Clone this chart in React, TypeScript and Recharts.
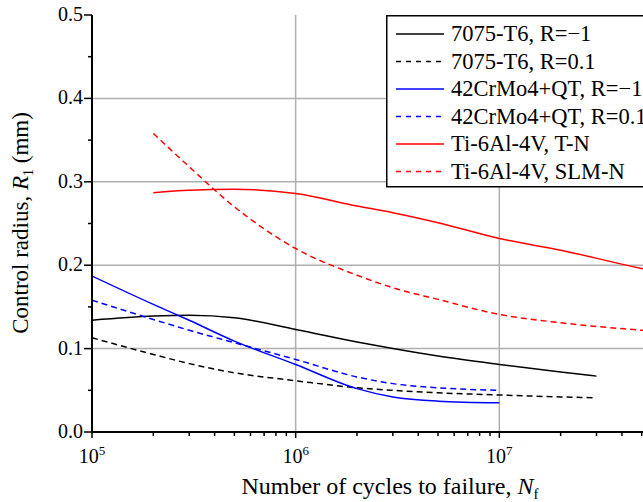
import { Line, LineChart, ReferenceLine, XAxis, YAxis } from 'recharts';

// cycles to failure, one list per material
const n7075 = [1e5, 2e5, 3e5, 5e5, 1e6, 2e6, 3e6, 5e6, 1e7, 2e7, 3e7];
const r7075Rm1 = [0.134, 0.139, 0.14, 0.137, 0.123, 0.108, 0.1, 0.091, 0.081, 0.072, 0.067];
const r7075R01 = [0.113, 0.093, 0.082, 0.071, 0.0615, 0.053, 0.05, 0.047, 0.0444, 0.042, 0.041];

const nCrMo = [1e5, 2e5, 3e5, 5e5, 1e6, 2e6, 3e6, 5e6, 1e7];
const rCrMoRm1 = [0.187, 0.153, 0.134, 0.109, 0.081, 0.052, 0.042, 0.037, 0.035];
const rCrMoR01 = [0.158, 0.135, 0.122, 0.107, 0.087, 0.066, 0.058, 0.053, 0.05];

const nTi = [2e5, 3e5, 5e5, 1e6, 2e6, 3e6, 5e6, 1e7, 2e7, 5e7, 1e8];
const rTiTN = [0.287, 0.29, 0.291, 0.286, 0.271, 0.263, 0.251, 0.232, 0.218, 0.196, 0.182];
const rTiSLM = [0.358, 0.318, 0.27, 0.22, 0.188, 0.173, 0.159, 0.141, 0.131, 0.122, 0.117];

const xMajor = [1e5, 1e6, 1e7, 1e8];
const xLabelled = [1e5, 1e6, 1e7];
const xMinor = [5, 6, 7].flatMap((d) => [2, 3, 4, 5, 6, 7, 8, 9].map((k) => k * 10 ** d));
const yMajor = [0, 0.1, 0.2, 0.3, 0.4, 0.5];
const yMinor = [0.05, 0.15, 0.25, 0.35, 0.45];

const toPoints = (n: number[], r: number[]) => n.map((v, i) => ({ n: v, r: r[i] }));

const series = [
  { name: '7075-T6, R=\u22121', color: '#000000', dash: undefined, data: toPoints(n7075, r7075Rm1) },
  { name: '7075-T6, R=0.1', color: '#000000', dash: '6 4', data: toPoints(n7075, r7075R01) },
  { name: '42CrMo4+QT, R=\u22121', color: '#0000ff', dash: undefined, data: toPoints(nCrMo, rCrMoRm1) },
  { name: '42CrMo4+QT, R=0.1', color: '#0000ff', dash: '6 4', data: toPoints(nCrMo, rCrMoR01) },
  { name: 'Ti-6Al-4V, T-N', color: '#ff0000', dash: undefined, data: toPoints(nTi, rTiTN) },
  { name: 'Ti-6Al-4V, SLM-N', color: '#ff0000', dash: '6 4', data: toPoints(nTi, rTiSLM) },
];

const FONT = '"Liberation Serif", "Times New Roman", serif';

function BottomTick({ x, y, payload }: any) {
  const major = xMajor.includes(payload.value);
  const exp = Math.round(Math.log10(payload.value));
  return (
    <g>
      <line x1={x} x2={x} y1={y} y2={y + (major ? 6 : 4)} stroke="#000" strokeWidth={1.5} />
      {xLabelled.includes(payload.value) && (
        <text x={x} y={y + 31} textAnchor="middle" fontFamily={FONT} fontSize={20} fill="#000">
          10<tspan dy={-8} fontSize={13}>{exp}</tspan>
        </text>
      )}
    </g>
  );
}

function TopTick({ x, y, payload }: any) {
  const major = xMajor.includes(payload.value);
  return <line x1={x} x2={x} y1={y} y2={y + (major ? 6 : 4)} stroke="#000" strokeWidth={1.5} />;
}

function LeftTick({ x, y, payload }: any) {
  const major = yMajor.some((v) => Math.abs(v - payload.value) < 1e-9);
  return (
    <g>
      <line x1={x} x2={x - (major ? 8 : 4)} y1={y} y2={y} stroke="#000" strokeWidth={1.5} />
      {major && (
        <text x={x - 9} y={y + 6} textAnchor="end" fontFamily={FONT} fontSize={20} fill="#000">
          {payload.value.toFixed(1)}
        </text>
      )}
    </g>
  );
}

function YTitle() {
  return (
    <text
      x={28}
      y={223}
      transform="rotate(-90 28 223)"
      textAnchor="middle"
      fontFamily={FONT}
      fontSize={23}
      fill="#000"
    >
      Control radius, <tspan fontStyle="italic">R</tspan>
      <tspan dy={5} fontSize={14}>1</tspan>
      <tspan dy={-5}> (mm)</tspan>
    </text>
  );
}

function XTitle() {
  return (
    <text x={390} y={494} textAnchor="middle" fontFamily={FONT} fontSize={24} fill="#000">
      Number of cycles to failure, <tspan fontStyle="italic">N</tspan>
      <tspan dy={5} fontSize={15}>f</tspan>
    </text>
  );
}

function LegendBox() {
  return (
    <svg width={300} height={173} style={{ display: 'block' }}>
      <rect x={0.75} y={0.75} width={310} height={171} fill="#fff" stroke="#000" strokeWidth={1.5} />
      {series.map((s, i) => {
        const cy = 19 + i * 27.5;
        return (
          <g key={s.name}>
            <line x1={10} x2={58} y1={cy} y2={cy} stroke={s.color} strokeWidth={1.5} strokeDasharray={s.dash ? '5 5' : undefined} />
            <text x={65} y={cy + 7} fontFamily={FONT} fontSize={22.5} fill="#000">
              {s.name}
            </text>
          </g>
        );
      })}
    </svg>
  );
}

export default function App() {
  return (
    <div style={{ position: 'absolute', left: 0, top: 0, width: 643, height: 502, overflow: 'hidden', background: '#fff' }}>
      <LineChart width={720} height={502} margin={{ top: 15, right: 17, bottom: 0, left: 0 }}>
        <XAxis
          dataKey="n"
          type="number"
          scale="log"
          domain={[1e5, 1e8]}
          allowDataOverflow
          ticks={[...xMajor, ...xMinor]}
          interval={0}
          height={70}
          tickSize={0}
          tickMargin={0}
          tickLine={false}
          axisLine={{ stroke: '#000', strokeWidth: 2 }}
          tick={BottomTick}
          label={<XTitle />}
        />
        <XAxis
          xAxisId="top"
          orientation="top"
          dataKey="n"
          type="number"
          scale="log"
          domain={[1e5, 1e8]}
          allowDataOverflow
          ticks={[...xMajor, ...xMinor]}
          interval={0}
          height={0}
          tickSize={0}
          tickMargin={0}
          tickLine={false}
          axisLine={{ stroke: '#000', strokeWidth: 2 }}
          tick={TopTick}
        />
        <YAxis
          dataKey="r"
          type="number"
          domain={[0, 0.5]}
          ticks={[...yMajor, ...yMinor].sort((a, b) => a - b)}
          interval={0}
          width={92}
          tickSize={0}
          tickMargin={0}
          tickLine={false}
          axisLine={{ stroke: '#000', strokeWidth: 2 }}
          tick={LeftTick}
          label={<YTitle />}
        />
        {[0.1, 0.2, 0.3, 0.4].map((v) => (
          <ReferenceLine key={`h${v}`} y={v} stroke="#b0b0b0" strokeWidth={1.5} />
        ))}
        {[1e6, 1e7].map((v) => (
          <ReferenceLine key={`v${v}`} x={v} stroke="#b0b0b0" strokeWidth={1.5} />
        ))}
        {series.map((s) => (
          <Line
            key={s.name}
            data={s.data}
            dataKey="r"
            name={s.name}
            type="monotone"
            stroke={s.color}
            strokeWidth={1.5}
            strokeDasharray={s.dash}
            dot={false}
            activeDot={false}
            isAnimationActive={false}
          />
        ))}
      </LineChart>
      <div style={{ position: 'absolute', left: 386, top: 15 }}>
        <LegendBox />
      </div>
    </div>
  );
}
